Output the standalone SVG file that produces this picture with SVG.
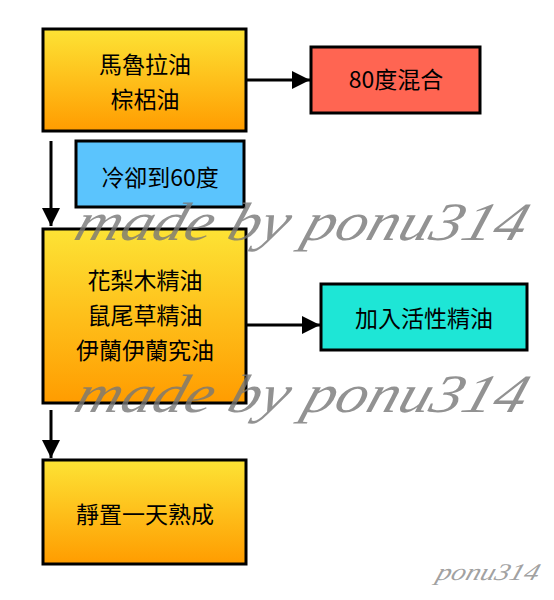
<svg xmlns="http://www.w3.org/2000/svg" width="554" height="600" viewBox="0 0 554 600">
<defs>
<linearGradient id="gold" x1="0" y1="0" x2="0" y2="1">
<stop offset="0" stop-color="#fde335"/>
<stop offset="1" stop-color="#ff9c00"/>
</linearGradient>
<marker id="arr" viewBox="0 0 10 10" refX="10" refY="5" markerWidth="6" markerHeight="6" markerUnits="strokeWidth" orient="auto">
<path d="M0,0 L10,5 L0,10 z" fill="#000"/>
</marker>
<style>
.box{stroke:#000;stroke-width:3}
.t{font-family:"Noto Sans CJK TC","Liberation Sans",sans-serif;font-size:23px;fill:#000;text-anchor:middle}
.c{stroke:#000;stroke-width:3;fill:none;marker-end:url(#arr)}
.wm{font-family:"Liberation Serif",serif;font-style:italic;fill:#777;fill-opacity:0.8}
</style>
</defs>
<rect width="554" height="600" fill="#fff"/>
<g id="connectors">
<line class="c" x1="246" y1="80" x2="310" y2="80"/>
<line class="c" x1="51" y1="141" x2="51" y2="226"/>
<line class="c" x1="246" y1="325" x2="320" y2="325"/>
<line class="c" x1="51" y1="410" x2="51" y2="458"/>
</g>
<g id="n1">
<rect class="box" x="43" y="29" width="203" height="102" fill="url(#gold)"/>
<text class="t" x="145" y="73">馬魯拉油</text>
<text class="t" x="145" y="108">棕梠油</text>
</g>
<g id="n2">
<rect class="box" x="311" y="47" width="169" height="66" fill="#ff6552"/>
<text class="t" x="396" y="88">80度混合</text>
</g>
<g id="n3">
<rect class="box" x="76" y="141" width="168" height="66" fill="#5bc4fd"/>
<text class="t" x="160" y="186">冷卻到60度</text>
</g>
<g id="n4">
<rect class="box" x="43" y="229" width="203" height="174" fill="url(#gold)"/>
<text class="t" x="145" y="289">花梨木精油</text>
<text class="t" x="145" y="324">鼠尾草精油</text>
<text class="t" x="145" y="359">伊蘭伊蘭究油</text>
</g>
<g id="n5">
<rect class="box" x="321" y="284" width="206" height="66" fill="#1ee6d6"/>
<text class="t" x="424" y="327">加入活性精油</text>
</g>
<g id="n6">
<rect class="box" x="43" y="460" width="203" height="104" fill="url(#gold)"/>
<text class="t" x="145" y="523">靜置一天熟成</text>
</g>
<g id="watermarks">
<text class="wm" transform="translate(72,240) skewX(-18)" x="0" y="0" font-size="54" textLength="450" lengthAdjust="spacingAndGlyphs">made by ponu314</text>
<text class="wm" transform="translate(72,412) skewX(-18)" x="0" y="0" font-size="54" textLength="450" lengthAdjust="spacingAndGlyphs">made by ponu314</text>
<text class="wm" transform="translate(435,580) skewX(-18)" x="0" y="0" font-size="24" textLength="102" lengthAdjust="spacingAndGlyphs" style="fill:#888">ponu314</text>
</g>
</svg>
